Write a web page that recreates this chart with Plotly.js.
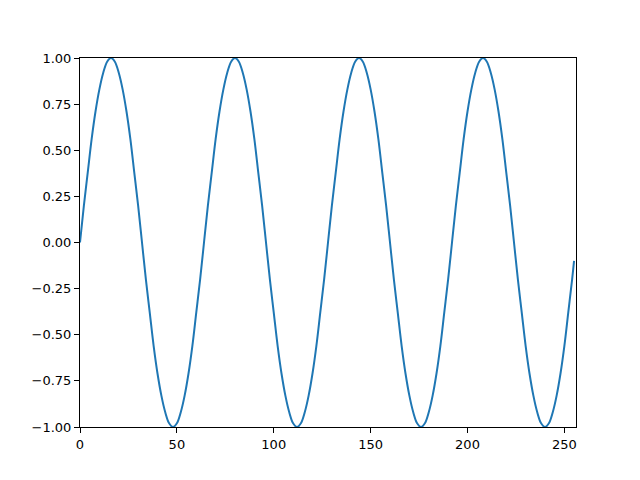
<!DOCTYPE html>
<html>
<head>
<meta charset="utf-8">
<script src="https://cdn.plot.ly/plotly-3.0.1.min.js"></script>
<style>
  html, body { margin: 0; padding: 0; background: #fff; }
  #myDiv { width: 640px; height: 480px; }
</style>
</head>
<body>
<div id="myDiv"></div>
<script>
// samples, every 2 steps plus the last one
var sampleX = [
  0, 2, 4, 6, 8, 10, 12, 14, 16, 18, 20, 22, 24, 26, 28, 30,
  32, 34, 36, 38, 40, 42, 44, 46, 48, 50, 52, 54, 56, 58, 60, 62,
  64, 66, 68, 70, 72, 74, 76, 78, 80, 82, 84, 86, 88, 90, 92, 94,
  96, 98, 100, 102, 104, 106, 108, 110, 112, 114, 116, 118, 120, 122, 124, 126,
  128, 130, 132, 134, 136, 138, 140, 142, 144, 146, 148, 150, 152, 154, 156, 158,
  160, 162, 164, 166, 168, 170, 172, 174, 176, 178, 180, 182, 184, 186, 188, 190,
  192, 194, 196, 198, 200, 202, 204, 206, 208, 210, 212, 214, 216, 218, 220, 222,
  224, 226, 228, 230, 232, 234, 236, 238, 240, 242, 244, 246, 248, 250, 252, 254,
  255
]
var sampleY = [
  0, 0.20, 0.38, 0.56, 0.71, 0.83, 0.92, 0.98, 1, 0.98, 0.92, 0.83, 0.71, 0.56, 0.38, 0.20,
  0, -0.20, -0.38, -0.56, -0.71, -0.83, -0.92, -0.98, -1, -0.98, -0.92, -0.83, -0.71, -0.56, -0.38, -0.20,
  0, 0.20, 0.38, 0.56, 0.71, 0.83, 0.92, 0.98, 1, 0.98, 0.92, 0.83, 0.71, 0.56, 0.38, 0.20,
  0, -0.20, -0.38, -0.56, -0.71, -0.83, -0.92, -0.98, -1, -0.98, -0.92, -0.83, -0.71, -0.56, -0.38, -0.20,
  0, 0.20, 0.38, 0.56, 0.71, 0.83, 0.92, 0.98, 1, 0.98, 0.92, 0.83, 0.71, 0.56, 0.38, 0.20,
  0, -0.20, -0.38, -0.56, -0.71, -0.83, -0.92, -0.98, -1, -0.98, -0.92, -0.83, -0.71, -0.56, -0.38, -0.20,
  0, 0.20, 0.38, 0.56, 0.71, 0.83, 0.92, 0.98, 1, 0.98, 0.92, 0.83, 0.71, 0.56, 0.38, 0.20,
  0, -0.20, -0.38, -0.56, -0.71, -0.83, -0.92, -0.98, -1, -0.98, -0.92, -0.83, -0.71, -0.56, -0.38, -0.20,
  -0.10
]
var xTicks = [0, 50, 100, 150, 200, 250]
var yTicks = [-1, -0.75, -0.5, -0.25, 0, 0.25, 0.5, 0.75, 1]
var yTickText = ['\u22121.00', '\u22120.75', '\u22120.50', '\u22120.25', '0.00', '0.25', '0.50', '0.75', '1.00']

var wave = {
  x: sampleX,
  y: sampleY,
  mode: 'lines',
  type: 'scatter',
  line: { color: '#1f77b4', width: 2, shape: 'spline', smoothing: 1 }
}

var axisStyle = {
  showgrid: false,
  zeroline: false,
  showline: true,
  linecolor: '#000',
  linewidth: 1,
  mirror: true,
  ticks: 'outside',
  ticklen: 5,
  tickwidth: 1,
  tickcolor: '#000',
  tickfont: { family: 'DejaVu Sans', size: 13, color: '#000' }
}

var layout = {
  width: 640,
  height: 480,
  margin: { l: 80, r: 64, t: 58, b: 53 },
  paper_bgcolor: '#fff',
  plot_bgcolor: '#fff',
  showlegend: false,
  xaxis: Object.assign({}, axisStyle, {
    range: [0, 256],
    tickvals: xTicks
  }),
  yaxis: Object.assign({}, axisStyle, {
    range: [-1, 1],
    tickvals: yTicks,
    ticktext: yTickText
  })
}

Plotly.newPlot('myDiv', [wave], layout, { staticPlot: true, displayModeBar: false })
</script>
</body>
</html>
